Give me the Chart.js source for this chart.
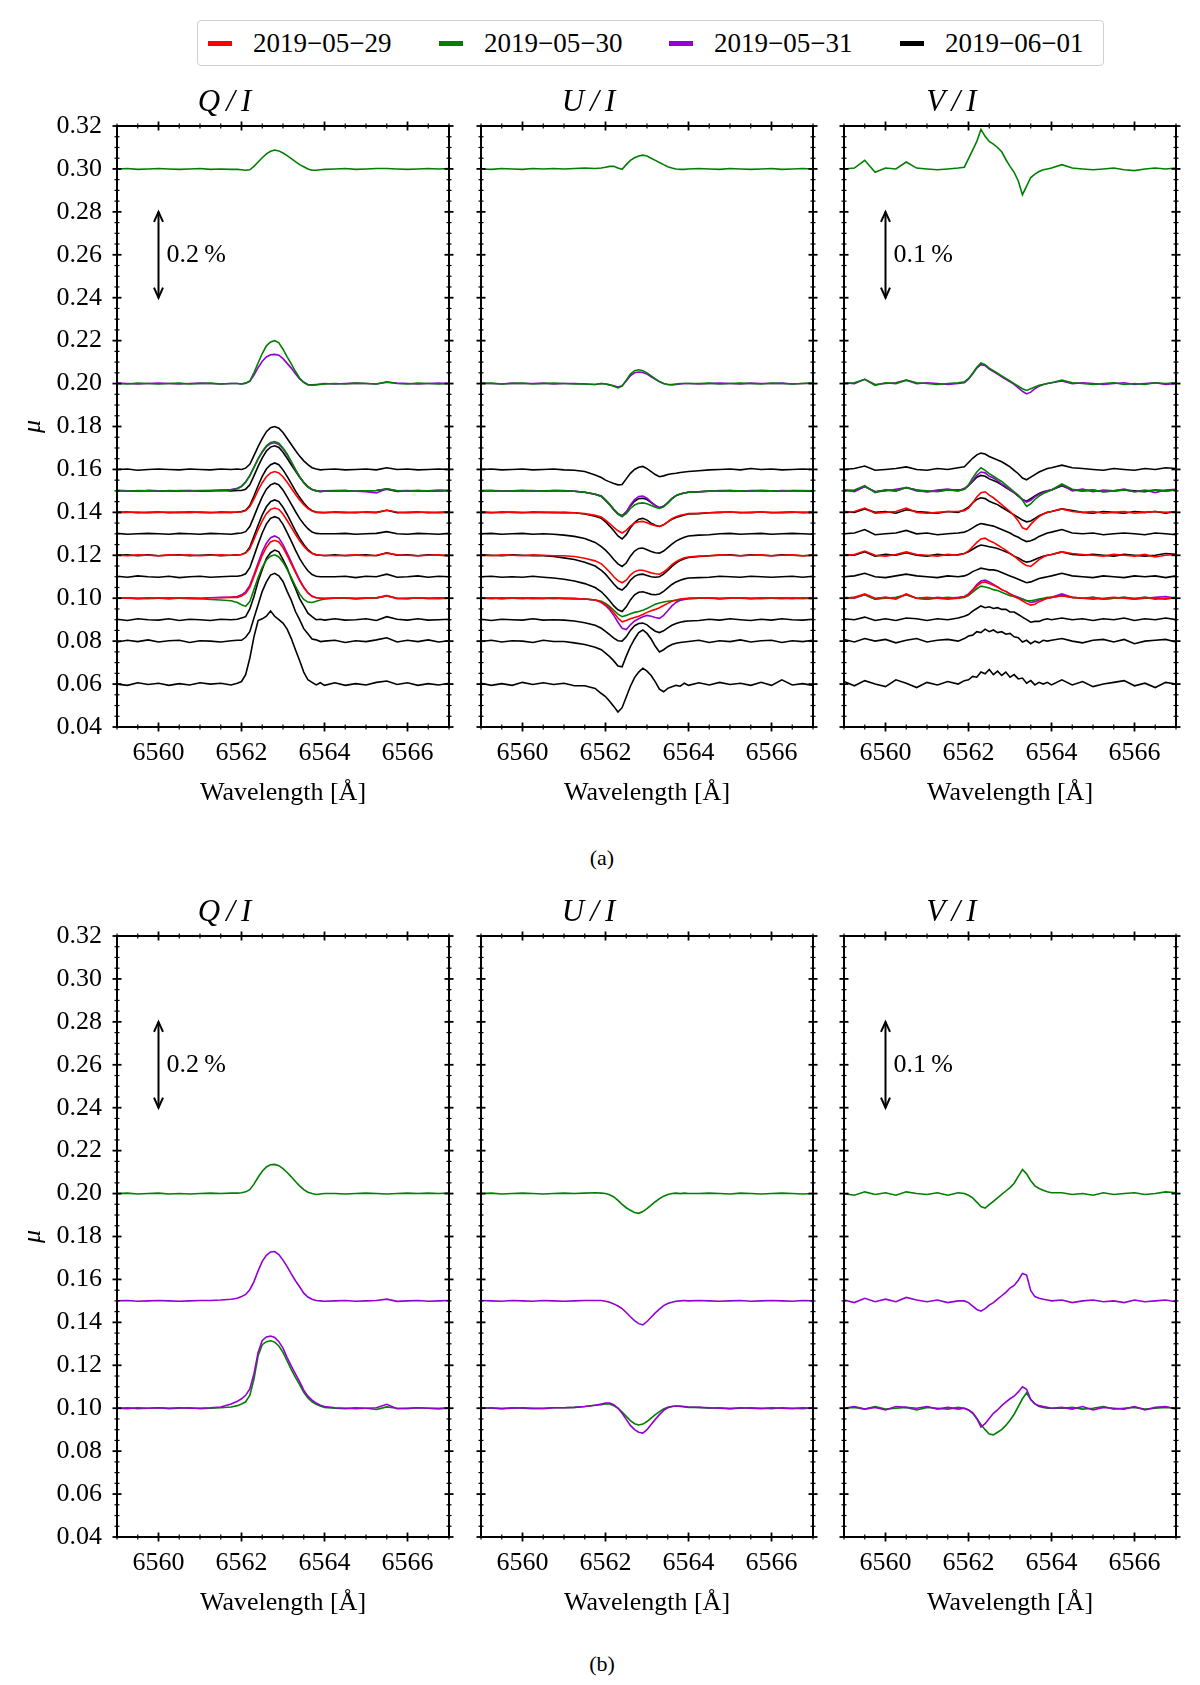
<!DOCTYPE html>
<html>
<head>
<meta charset="utf-8">
<title>Stokes profiles</title>
<script src="https://cdn.jsdelivr.net/npm/chart.js@4.4.1/dist/chart.umd.min.js"></script>
<style>
  body { margin: 0; background: #fff; }
  #page { position: relative; width: 1200px; height: 1685px; overflow: hidden; font-family: "Liberation Serif", serif; color: #000; }
  canvas { position: absolute; }
  #legend { position: absolute; left: 197px; top: 20px; width: 905px; height: 44px; border: 1px solid #d0d0d0; border-radius: 4px; background: #fff; font-size: 27px; }
  #legend .item { position: absolute; top: 0; height: 44px; line-height: 44px; white-space: nowrap; }
  #legend .item i { display: inline-block; width: 24px; height: 5px; vertical-align: middle; margin-right: 21px; position: relative; top: -2px; }
  .sub { position: absolute; left: 552px; width: 100px; text-align: center; font-size: 22px; line-height: 26px; }
</style>
</head>
<body>
<div id="page">
  <div id="legend"></div>
  <canvas id="qa" width="464" height="756"></canvas>
  <canvas id="ua" width="464" height="756"></canvas>
  <canvas id="va" width="464" height="756"></canvas>
  <canvas id="qb" width="464" height="756"></canvas>
  <canvas id="ub" width="464" height="756"></canvas>
  <canvas id="vb" width="464" height="756"></canvas>
  <div class="sub" style="top:845px">(a)</div>
  <div class="sub" style="top:1651px">(b)</div>
</div>
<script>
// --- data ---
// wavelength grid [Å]: coarse in the continuum, 0.1 Å across H-alpha
const wavelength = [6559.0, 6559.25, 6559.5, 6559.75, 6560.0, 6560.25, 6560.5, 6560.75, 6561.0, 6561.25, 6561.5, 6561.75,
  6561.9, 6562.0, 6562.1, 6562.2, 6562.3, 6562.4, 6562.5, 6562.6, 6562.7, 6562.8, 6562.9, 6563.0, 6563.1, 6563.2, 6563.3, 6563.4, 6563.5, 6563.6, 6563.7, 6563.8, 6563.9, 6564.0,
  6564.25, 6564.5, 6564.75, 6565.0, 6565.25, 6565.5, 6565.75, 6566.0, 6566.25, 6566.5, 6566.75, 6567.0];
const xTicks = [6560, 6562, 6564, 6566];
const yTicks = [0.04, 0.06, 0.08, 0.10, 0.12, 0.14, 0.16, 0.18, 0.20, 0.22, 0.24, 0.26, 0.28, 0.30, 0.32];
const dates = ["2019\u221205\u221229", "2019\u221205\u221230", "2019\u221205\u221231", "2019\u221206\u221201"];
const dateColors = ["#ff0000", "#008000", "#9400d3", "#000000"];
// profiles are offset to their mu; the scale bars give 0.2 % (Q, U) and 0.1 % (V) per 0.04 in mu
const axisPerPercent = { Q: 0.2, U: 0.2, V: 0.4 };
const scaleBarX = 6560;
const scaleBarSpan = [0.24, 0.28];

// polarisation profiles, units of 0.001 %   (qa = Q/I panel (a), g/p/r/k = green/purple/red/black, number = mu)
const qa_g30 = [0,1,-1,0,1,0,-1,0,1,-1,0,-1, -1,-2,-3,-2,6,16,26,35,41,44,42,37,31,24,17,10,5,0,-3,-3,-2,-1, 0,1,-1,0,1,1,0,-1,0,1,0,1];
const qa_g20 = [0,-1,1,0,-1,0,1,-1,0,1,-1,0, 0,-1,1,6,25,48,70,88,97,100,95,80,62,46,28,13,3,-3,-4,-3,-2,-1, 0,-1,1,0,-1,4,0,-1,1,0,-1,0];
const qa_p20 = [1,0,-1,0,1,0,-1,0,1,0,-1,0, 0,-1,1,5,20,37,52,62,67,68,66,58,47,36,23,11,3,-2,-3,-2,-1,0, -1,0,1,0,-1,3,1,0,-1,0,1,0];
const qa_k16 = [0,1,-2,0,1,0,-1,1,0,-1,1,0, 1,0,3,12,32,53,72,88,97,100,96,86,72,58,44,31,20,11,4,1,-1,0, 1,-1,0,1,-1,4,0,1,-1,0,1,0];
const qa_k15 = [1,0,-1,1,0,-1,0,1,-1,0,1,0, 1,1,4,14,35,57,77,93,102,105,101,90,76,61,46,32,20,10,3,0,-1,0, 0,1,-1,0,1,4,-1,0,1,-1,0,1];
const qa_g15 = [0,-1,1,0,-1,1,0,-1,0,1,1,2, 5,10,20,35,55,75,92,105,113,115,111,100,86,68,50,33,19,9,3,0,-2,-1, 0,1,-1,0,1,5,0,-1,1,0,-1,1];
const qa_p15 = [1,0,-1,1,0,-1,1,0,1,1,2,3, 6,11,21,36,55,74,90,103,110,112,108,98,84,67,49,33,19,9,3,1,-1,0, 1,0,-1,-2,-5,5,0,1,-1,0,2,1];
const qa_k14 = [0,1,-1,0,1,-1,0,1,0,-1,1,0, 1,2,5,16,38,62,84,101,111,115,111,99,84,67,50,35,22,11,4,1,0,-1, 1,0,-1,1,0,5,-1,0,1,-1,0,1];
const qa_r14 = [-1,0,1,-1,0,1,0,-1,1,0,-1,0, 1,1,4,13,31,51,69,83,92,95,92,83,70,56,42,29,18,9,3,0,-1,0, 0,-1,1,0,-1,5,1,-1,0,1,-1,0];
const qa_k13 = [1,-1,0,1,0,-1,1,0,-1,1,0,-1, 1,2,5,17,40,64,86,104,114,118,114,102,86,69,52,36,23,12,4,1,0,0, 0,1,-1,0,1,5,0,-1,1,0,-1,1];
const qa_k12 = [0,1,-1,1,-1,0,1,-1,0,1,-1,0, 1,2,6,19,44,70,94,113,125,129,125,112,95,76,57,40,25,13,5,1,0,-1, 1,-1,0,1,-1,6,0,1,-1,1,0,-1];
const qa_r12 = [0,-1,1,0,-1,1,0,1,-1,0,1,0, 1,2,5,15,37,60,80,97,107,110,107,96,81,65,49,34,21,11,4,1,0,0, -1,0,1,-1,0,5,1,0,-1,0,1,-1];
const qa_k11 = [1,-1,2,0,-1,1,-2,0,1,-1,0,1, 1,3,7,21,48,76,102,123,136,140,136,122,103,83,62,43,27,14,5,1,0,0, 0,1,-2,1,0,6,-1,0,2,-1,1,0];
const qa_p10 = [0,1,-1,0,1,-1,0,1,0,1,2,3, 4,8,15,30,55,82,108,128,141,145,140,125,105,84,63,43,26,13,5,1,0,-1, 1,0,-1,1,0,6,0,-1,1,0,1,0];
const qa_r10 = [1,0,-1,1,0,-1,1,0,-1,1,1,2, 2,5,11,25,50,76,100,119,131,135,131,118,100,80,60,41,25,12,4,1,0,0, 0,1,-1,0,1,6,-1,0,1,-1,0,1];
const qa_g10 = [0,1,0,-1,0,1,0,-1,-1,-3,-4,-6, -10,-15,-19,-8,20,48,72,89,98,101,96,84,67,48,28,10,-3,-9,-10,-7,-4,-2, 0,1,-1,0,1,5,0,-1,1,0,-1,0];
const qa_k09 = [1,-2,2,0,-1,2,-2,1,0,-2,1,0, 1,4,7,25,54,89,117,143,156,162,158,140,120,95,73,49,32,15,7,0,1,-1, 2,-1,0,2,-2,7,1,-1,2,-1,0,1];
const qa_k08 = [-2,2,-1,3,-2,1,2,-3,1,0,-2,1, 2,2,9,22,54,85,116,138,154,158,152,139,116,95,69,50,29,17,5,3,-1,0, 2,-3,1,-1,3,8,-2,2,-1,3,-2,1];
const qa_k06 = [0,-3,3,-1,2,-3,1,-2,3,0,2,-2, 2,6,22,60,110,148,152,158,170,158,150,142,128,106,80,55,28,10,4,-2,3,-3, 3,-3,1,-2,4,7,-1,3,-3,1,-2,2];

const ua_g30 = [0,-1,1,0,-1,1,0,1,0,1,2,1, 2,4,6,6,2,-1,10,20,26,30,32,30,25,20,15,10,5,2,0,-1,-1,0, 1,0,-1,1,0,-1,0,1,-1,0,1,0];
const ua_g20 = [0,1,-1,0,1,-1,0,1,0,-1,-1,-2, 0,-1,-3,-6,-10,-6,8,22,30,32,30,25,18,11,5,0,-2,-2,-1,0,0,0, 0,1,-1,0,1,0,-1,1,0,-1,0,1];
const ua_p20 = [1,0,-1,1,0,0,1,-1,0,0,-1,-2, 0,-1,-3,-5,-8,-5,6,18,25,27,26,22,16,10,4,0,-2,-3,-2,-1,0,0, -1,0,1,0,-1,1,0,0,1,-1,0,1];
const ua_k16 = [0,1,-1,0,1,-1,0,1,-1,-2,-5,-13, -19,-25,-29,-33,-36,-35,-22,-9,0,5,7,2,-5,-12,-17,-15,-12,-10,-9,-7,-6,-5, -3,-1,0,1,-1,2,0,1,-1,0,1,0];
const ua_k15 = [0,1,-1,0,1,0,-1,1,0,-1,-3,-8, -12,-21,-31,-43,-53,-58,-49,-35,-24,-18,-17,-20,-27,-34,-39,-36,-28,-18,-11,-7,-5,-3, -2,-1,0,1,-1,0,1,0,-1,1,0,-1];
const ua_g15 = [1,0,-1,0,1,-1,0,1,0,-1,-3,-8, -13,-22,-32,-44,-54,-59,-53,-41,-33,-29,-28,-30,-34,-38,-41,-37,-28,-18,-11,-7,-5,-3, -2,0,-1,1,0,-1,1,0,-1,0,1,0];
const ua_p15 = [0,1,0,-1,0,1,-1,0,1,-1,-3,-8, -13,-22,-32,-44,-54,-60,-50,-33,-20,-13,-12,-17,-26,-34,-40,-36,-28,-18,-11,-7,-5,-3, -2,-1,1,0,-1,1,0,-1,1,0,-1,1];
const ua_k14 = [0,-1,1,0,-1,1,0,-1,0,-1,-4,-9, -14,-22,-32,-43,-55,-62,-52,-36,-24,-16,-14,-18,-25,-30,-33,-29,-22,-16,-12,-9,-6,-4, -3,-1,0,1,-1,0,1,-1,0,1,-1,0];
const ua_r14 = [1,0,-1,1,0,-1,0,1,-1,-1,-3,-7, -11,-18,-26,-35,-43,-48,-42,-32,-25,-22,-21,-24,-28,-31,-33,-29,-22,-15,-10,-7,-5,-3, -2,-1,0,1,0,-1,1,0,-1,0,1,0];
const ua_k13 = [0,1,-1,0,1,-1,0,-1,-3,-6,-11,-20, -30,-38,-48,-60,-70,-76,-68,-52,-40,-34,-33,-37,-41,-44,-45,-40,-32,-24,-17,-12,-8,-5, -3,-2,0,1,-1,0,1,-1,0,1,0,-1];
const ua_r12 = [0,-1,1,0,-1,1,0,-1,-1,-3,-7,-13, -20,-29,-39,-50,-59,-64,-58,-46,-38,-35,-35,-38,-41,-43,-44,-39,-31,-22,-15,-10,-6,-4, -2,-1,1,0,-1,0,1,-1,0,1,-1,0];
const ua_k12 = [1,0,-1,1,0,-1,-1,-3,-6,-10,-16,-25, -35,-44,-55,-67,-77,-81,-72,-58,-49,-45,-44,-47,-50,-51,-50,-44,-35,-26,-18,-12,-8,-5, -3,-1,0,1,-1,1,0,-1,1,0,-1,0];
const ua_k11 = [0,1,-1,0,-1,1,-1,-3,-6,-10,-16,-25, -35,-45,-56,-68,-77,-81,-70,-54,-42,-36,-35,-38,-41,-42,-40,-34,-26,-18,-12,-8,-5,-3, -2,-1,1,0,-1,1,0,-1,0,1,-1,1];
const ua_g10 = [0,1,-1,0,1,0,-1,1,0,-1,-2,-4, -7,-12,-19,-28,-37,-43,-40,-36,-33,-31,-28,-24,-19,-14,-11,-9,-7,-6,-5,-3,-2,-1, 0,1,-1,0,1,0,-1,0,1,0,-1,1];
const ua_r10 = [1,0,-1,1,0,-1,0,1,-1,-1,-2,-4, -9,-15,-23,-34,-46,-55,-52,-48,-45,-42,-38,-33,-29,-26,-22,-17,-12,-7,-4,-2,-1,0, 1,0,-1,0,1,-1,0,1,0,-1,1,0];
const ua_p10 = [0,-1,1,0,-1,1,0,-1,0,-1,-2,-4, -10,-17,-27,-40,-56,-70,-73,-62,-53,-48,-43,-40,-42,-45,-47,-40,-29,-18,-10,-5,-3,-1, 0,1,-1,1,0,-1,1,0,-1,1,0,-1];
const ua_k09 = [1,-2,1,0,-1,2,-1,0,-1,-3,-7,-13, -20,-27,-35,-43,-49,-50,-40,-25,-14,-9,-8,-12,-20,-27,-30,-26,-19,-13,-9,-6,-4,-3, -2,1,-1,2,0,-2,1,-1,2,0,-1,1];
const ua_k08 = [-1,2,-2,1,0,-3,2,-1,-1,-4,-8,-14, -20,-28,-36,-46,-58,-60,-35,-13,5,20,26,18,5,-12,-25,-20,-13,-8,-5,-3,-2,-1, 2,-3,1,-1,3,-2,1,2,-3,1,-1,2];
const ua_k06 = [2,-3,1,-3,4,-1,3,-1,2,-4,-4,-10, -22,-29,-40,-52,-65,-55,-30,-5,15,28,37,30,20,5,-12,-18,-10,-6,-3,-5,2,-3, 3,-2,4,-1,2,-3,4,-3,10,-2,1,-3];

const va_g30 = [0,1,10,-4,1,0,8,1,0,-1,0,1, 2,12,22,32,46,38,32,29,25,20,11,3,-4,-14,-30,-20,-10,-6,-3,-1,0,1, 5,1,0,-1,0,1,-1,-2,0,1,0,1];
const va_g20 = [0,1,5,-2,1,0,4,1,0,-1,0,1, 2,6,12,19,24,22,18,15,12,9,6,3,0,-3,-6,-8,-6,-4,-2,-1,0,1, 4,1,0,-1,0,1,-1,0,-1,1,0,1];
const va_p20 = [1,0,5,-1,0,1,4,0,1,0,-1,0, 1,5,11,18,22,21,17,14,11,8,5,2,-1,-5,-9,-12,-10,-6,-3,-1,0,1, 3,0,1,0,-1,0,1,-1,0,1,-1,0];
const va_k16 = [0,1,4,-1,0,1,3,0,-1,1,0,2, 3,8,13,17,19,18,15,13,11,9,6,3,-1,-5,-10,-12,-9,-6,-3,-1,1,2, 5,2,1,0,-1,1,0,-1,1,0,2,1];
const va_k15 = [1,0,5,-1,1,0,4,1,-1,0,1,1, 2,6,11,16,18,17,14,12,10,7,4,1,-2,-6,-10,-12,-9,-6,-3,-1,0,1, 6,1,0,1,-1,0,1,0,-1,1,0,1];
const va_g15 = [0,1,6,-2,1,0,4,1,0,-1,1,0, 2,7,15,22,27,24,20,17,14,11,7,3,-1,-5,-11,-18,-15,-10,-6,-3,-1,1, 8,2,0,1,-1,0,1,-1,0,1,0,1];
const va_p15 = [1,-1,5,-1,0,2,4,0,-1,1,2,0, 3,6,12,18,22,21,17,15,12,8,5,1,-2,-6,-10,-13,-11,-7,-4,-2,0,1, 7,0,2,-1,1,0,2,-1,1,-2,1,2];
const va_r14 = [0,1,5,-1,0,1,5,0,-1,0,1,1, 2,5,11,18,23,24,20,17,13,9,5,1,-4,-10,-18,-20,-14,-9,-5,-2,0,1, 4,1,0,1,-1,0,1,-1,0,1,0,1];
const va_k14 = [1,0,4,0,1,-1,3,1,0,-1,1,0, 3,6,11,15,17,16,13,11,9,6,3,0,-3,-6,-9,-11,-10,-7,-4,-2,0,1, 4,2,0,-1,1,0,-1,1,0,1,-1,1];
const va_k13 = [0,1,5,-1,0,1,4,0,1,-1,0,1, 2,4,7,10,12,11,10,9,7,5,3,1,-2,-4,-7,-9,-8,-6,-3,-1,1,2, 5,1,0,1,-1,0,1,0,-1,1,0,-1];
const va_r12 = [0,1,5,0,-1,1,4,1,0,-1,1,0, 2,5,10,15,19,20,17,15,12,9,6,2,-1,-5,-9,-12,-13,-9,-5,-2,0,1, 4,2,1,0,-1,1,0,-1,1,-2,0,1];
const va_k12 = [1,0,4,-1,1,0,3,0,-1,1,0,1, 2,4,7,10,12,11,10,9,8,6,4,2,-1,-3,-6,-8,-7,-5,-3,-1,0,1, 4,1,0,1,0,-1,1,0,-1,0,2,1];
const va_k11 = [0,1,4,0,-1,1,3,1,0,-1,1,0, 1,3,6,8,10,9,8,8,7,5,3,1,-1,-3,-5,-7,-6,-4,-2,-1,0,1, 4,1,0,-1,1,0,-1,1,0,1,-1,1];
const va_p10 = [1,0,4,-1,1,0,4,0,-1,1,0,1, 2,5,10,16,20,21,19,16,13,10,8,5,3,1,-1,-3,-5,-4,-2,-1,0,1, 5,1,0,1,-1,0,1,-1,0,1,2,0];
const va_r10 = [0,1,5,0,1,-1,5,0,1,0,-1,0, 2,4,9,14,18,19,17,15,13,10,8,5,2,0,-3,-6,-8,-7,-4,-2,0,1, 3,1,0,-1,0,1,0,-1,1,0,-1,1];
const va_g10 = [0,1,4,-1,0,1,4,0,-1,0,1,0, 1,3,7,11,14,13,12,10,9,7,5,3,2,0,-1,-3,-3,-2,-1,0,1,1, 3,1,0,1,-1,0,1,0,1,-1,0,1];
const va_k09 = [1,0,3,-1,1,-1,2,1,-1,1,0,2, 4,6,10,13,16,14,15,13,14,12,12,9,9,6,3,0,-3,-2,-2,0,1,0, 2,0,1,-1,1,0,2,-1,1,0,2,0];
const va_k08 = [2,-1,3,0,2,-2,1,3,-1,1,2,0, 3,6,7,11,10,14,11,13,10,11,8,9,5,4,-1,1,-3,0,-2,1,0,1, 3,0,-2,1,2,-1,2,-3,0,1,2,-1];
const va_k06 = [3,-2,4,0,-3,5,1,-4,2,-1,3,0, 4,5,9,8,14,12,17,11,15,10,14,8,11,6,7,1,4,-1,2,0,2,-1, 5,-1,3,-3,0,2,4,-2,1,-4,2,0];

const qb_g20 = [0,1,-1,0,1,-1,0,-1,0,1,0,1, 1,2,4,9,22,38,52,62,67,68,65,58,49,39,28,18,9,3,0,-2,-1,0, 0,-1,0,1,0,-1,0,1,0,1,0,1];
const qb_p15 = [0,1,-1,0,1,0,-1,0,1,1,2,4, 6,10,15,26,45,70,92,106,114,115,108,95,80,63,47,33,18,9,4,1,0,-1, 0,1,-1,0,1,4,-1,0,1,-1,0,1];
const qb_p10 = [0,-1,1,0,1,0,1,0,0,1,3,10, 16,22,30,45,80,130,158,166,168,165,155,140,118,98,80,62,42,28,19,12,7,4, 1,0,-1,0,1,9,-1,0,1,0,-1,1];
const qb_g10 = [0,1,-1,0,1,-1,0,1,-1,0,1,3, 6,10,15,30,68,122,148,155,157,154,145,130,110,90,72,55,37,24,15,9,5,2, 0,-1,1,0,-3,3,0,-1,1,0,-1,0];
const ub_g20 = [0,1,-1,0,1,0,-1,0,1,0,1,2, 1,0,-3,-8,-16,-25,-33,-39,-44,-46,-42,-35,-27,-19,-12,-6,-2,0,1,0,1,0, 0,1,0,-1,1,0,-1,0,1,0,-1,0];
const ub_p15 = [1,0,-1,1,0,-1,1,0,-1,0,1,1, 1,-1,-3,-7,-12,-18,-27,-37,-46,-53,-56,-48,-38,-28,-19,-11,-6,-3,-1,0,1,0, 1,0,-1,0,1,-1,0,1,0,-1,1,0];
const ub_p10 = [0,1,-1,0,1,0,-1,1,1,2,4,7, 10,12,12,8,0,-12,-26,-40,-50,-56,-58,-50,-38,-26,-15,-5,1,4,5,5,4,3, 2,1,0,-1,1,0,-1,1,0,-1,1,0];
const ub_g10 = [1,0,-1,1,0,-1,0,1,1,2,4,7, 8,10,10,6,0,-9,-19,-29,-36,-39,-37,-31,-23,-15,-8,-2,2,4,5,4,3,2, 2,0,1,-1,0,1,0,-1,1,0,-1,1];
const vb_g20 = [0,-2,2,-1,1,-2,2,0,-1,1,-2,1, 0,-2,-5,-10,-15,-17,-13,-9,-5,-1,3,7,12,20,28,23,15,9,6,4,2,1, 1,-1,0,-2,1,-1,0,1,-1,0,2,1];
const vb_p15 = [1,-2,3,-1,2,-1,4,1,-1,1,-2,0, 0,-2,-6,-10,-12,-9,-5,-2,2,6,10,15,18,24,32,30,12,5,3,2,1,0, 1,-2,0,1,-1,0,-2,1,-1,0,1,-1];
const vb_p10 = [0,2,-1,1,-2,2,1,0,2,-1,1,-1, 0,-2,-5,-12,-22,-18,-12,-6,-2,3,7,11,14,19,25,22,10,5,3,2,1,0, 1,-1,2,-2,1,0,-1,2,-2,1,2,-1];
const vb_g10 = [0,1,-1,2,-1,0,1,-2,1,0,-1,1, 0,-2,-6,-12,-19,-25,-30,-31,-28,-25,-20,-14,-7,2,11,18,10,5,2,1,0,0, 0,1,-1,0,2,-1,0,1,-1,0,1,0];

// [date index, mu, profile]
const seriesQa = [[1,0.30,qa_g30],[1,0.20,qa_g20],[2,0.20,qa_p20],[3,0.16,qa_k16],[3,0.15,qa_k15],[1,0.15,qa_g15],[2,0.15,qa_p15],
  [3,0.14,qa_k14],[0,0.14,qa_r14],[3,0.13,qa_k13],[3,0.12,qa_k12],[0,0.12,qa_r12],[3,0.11,qa_k11],[2,0.10,qa_p10],[0,0.10,qa_r10],
  [1,0.10,qa_g10],[3,0.09,qa_k09],[3,0.08,qa_k08],[3,0.06,qa_k06]];
const seriesUa = [[1,0.30,ua_g30],[1,0.20,ua_g20],[2,0.20,ua_p20],[3,0.16,ua_k16],[3,0.15,ua_k15],[1,0.15,ua_g15],[2,0.15,ua_p15],
  [3,0.14,ua_k14],[0,0.14,ua_r14],[3,0.13,ua_k13],[3,0.12,ua_k12],[0,0.12,ua_r12],[3,0.11,ua_k11],[2,0.10,ua_p10],[0,0.10,ua_r10],
  [1,0.10,ua_g10],[3,0.09,ua_k09],[3,0.08,ua_k08],[3,0.06,ua_k06]];
const seriesVa = [[1,0.30,va_g30],[1,0.20,va_g20],[2,0.20,va_p20],[3,0.16,va_k16],[3,0.15,va_k15],[1,0.15,va_g15],[2,0.15,va_p15],
  [3,0.14,va_k14],[0,0.14,va_r14],[3,0.13,va_k13],[3,0.12,va_k12],[0,0.12,va_r12],[3,0.11,va_k11],[2,0.10,va_p10],[0,0.10,va_r10],
  [1,0.10,va_g10],[3,0.09,va_k09],[3,0.08,va_k08],[3,0.06,va_k06]];
const seriesQb = [[1,0.20,qb_g20],[2,0.15,qb_p15],[2,0.10,qb_p10],[1,0.10,qb_g10]];
const seriesUb = [[1,0.20,ub_g20],[2,0.15,ub_p15],[2,0.10,ub_p10],[1,0.10,ub_g10]];
const seriesVb = [[1,0.20,vb_g20],[2,0.15,vb_p15],[2,0.10,vb_p10],[1,0.10,vb_g10]];

document.addEventListener("DOMContentLoaded", () => {
  const FONT = '"Liberation Serif", serif';
  Chart.defaults.font.family = FONT;
  Chart.defaults.color = "#000";

  // --- legend (shared by all panels) ---
  const legend = document.getElementById("legend");
  const itemLeft = [10, 241, 471, 702];
  dates.forEach((d, i) => {
    const item = document.createElement("span");
    item.className = "item";
    item.style.left = itemLeft[i] + "px";
    item.innerHTML = '<i style="background:' + dateColors[i] + '"></i>' + d;
    legend.appendChild(item);
  });

  // frame, in-out ticks on all four sides and the scale bar
  const frameTicks = {
    id: "frameTicks",
    afterDatasetsDraw(chart, args, opts) {
      const { ctx, chartArea: a, scales: { x, y } } = chart;
      const seg = (x1, y1, x2, y2) => { ctx.beginPath(); ctx.moveTo(x1, y1); ctx.lineTo(x2, y2); ctx.stroke(); };
      ctx.save();
      ctx.strokeStyle = "#000";
      const nx = Math.round((x.max - x.min) / 0.5);
      for (let k = 0; k <= nx; k++) {
        const v = x.min + k * 0.5;
        const major = xTicks.some(t => Math.abs(t - v) < 1e-6);
        const len = major ? 4.5 : 2.5;
        ctx.lineWidth = major ? 1.8 : 1.2;
        const px = x.getPixelForValue(v);
        seg(px, a.bottom - len, px, a.bottom + len);
        seg(px, a.top - len, px, a.top + len);
      }
      const ny = Math.round((y.max - y.min) / 0.005);
      for (let k = 0; k <= ny; k++) {
        const v = y.min + k * 0.005;
        const major = yTicks.some(t => Math.abs(t - v) < 1e-6);
        const len = major ? 4.5 : 2.5;
        ctx.lineWidth = major ? 1.8 : 1.2;
        const py = y.getPixelForValue(v);
        seg(a.left - len, py, a.left + len, py);
        seg(a.right - len, py, a.right + len, py);
      }
      ctx.lineWidth = 2;
      ctx.strokeRect(a.left, a.top, a.right - a.left, a.bottom - a.top);

      if (opts.scaleBar) {
        const bx = x.getPixelForValue(scaleBarX);
        const yb = y.getPixelForValue(scaleBarSpan[0]);
        const yt = y.getPixelForValue(scaleBarSpan[1]);
        ctx.lineWidth = 2;
        seg(bx, yt, bx, yb);
        ctx.beginPath(); ctx.moveTo(bx - 4.5, yt + 10); ctx.lineTo(bx, yt); ctx.lineTo(bx + 4.5, yt + 10); ctx.stroke();
        ctx.beginPath(); ctx.moveTo(bx - 4.5, yb - 10); ctx.lineTo(bx, yb); ctx.lineTo(bx + 4.5, yb - 10); ctx.stroke();
        ctx.fillStyle = "#000";
        ctx.font = "26px " + FONT;
        ctx.textBaseline = "middle";
        ctx.textAlign = "left";
        ctx.fillText(opts.scaleBar, bx + 8, y.getPixelForValue((scaleBarSpan[0] + scaleBarSpan[1]) / 2));
      }
      ctx.restore();
    }
  };

  const rankA = [0, 1, 2, 3];   // red on top, black underneath
  const rankB = [0, 2, 1, 3];   // purple over green in (b)

  function buildDatasets(series, stokes, rank) {
    const k = 0.001 * axisPerPercent[stokes];
    return series.map(([d, mu, prof]) => ({
      label: dates[d],
      data: wavelength.map((w, i) => ({ x: w, y: mu + prof[i] * k })),
      borderColor: dateColors[d],
      borderWidth: 1.6,
      pointRadius: 0,
      tension: 0,
      order: rank[d],
    }));
  }

  const panels = [
    { id: "qa", col: 0, row: 0, title: "Q\u2009/\u2009I", stokes: "Q", series: seriesQa, bar: "0.2\u2009%" },
    { id: "ua", col: 1, row: 0, title: "U\u2009/\u2009I", stokes: "U", series: seriesUa, bar: null },
    { id: "va", col: 2, row: 0, title: "V\u2009/\u2009I", stokes: "V", series: seriesVa, bar: "0.1\u2009%" },
    { id: "qb", col: 0, row: 1, title: "Q\u2009/\u2009I", stokes: "Q", series: seriesQb, bar: "0.2\u2009%" },
    { id: "ub", col: 1, row: 1, title: "U\u2009/\u2009I", stokes: "U", series: seriesUb, bar: null },
    { id: "vb", col: 2, row: 1, title: "V\u2009/\u2009I", stokes: "V", series: seriesVb, bar: "0.1\u2009%" },
  ];
  const canvasLeft = [0, 364, 727];
  const canvasTop = [66, 876];

  panels.forEach(p => {
    const el = document.getElementById(p.id);
    el.style.left = canvasLeft[p.col] + "px";
    el.style.top = canvasTop[p.row] + "px";
    const first = p.col === 0;
    new Chart(el, {
      type: "line",
      data: { datasets: buildDatasets(p.series, p.stokes, p.row === 0 ? rankA : rankB) },
      plugins: [frameTicks],
      options: {
        responsive: false,
        animation: false,
        events: [],
        layout: { padding: { left: 0, right: 15, top: 0, bottom: 0 } },
        plugins: {
          legend: { display: false },
          tooltip: { enabled: false },
          title: { display: true, text: p.title, color: "#000", font: { size: 31, style: "italic", weight: "normal", lineHeight: 1 }, padding: { top: 21, bottom: 8 } },
          frameTicks: { scaleBar: p.bar },
        },
        scales: {
          x: {
            type: "linear", min: 6559, max: 6567,
            grid: { display: false, drawTicks: false },
            border: { display: false },
            afterBuildTicks: s => { s.ticks = xTicks.map(v => ({ value: v })); },
            afterFit: s => { s.height = 95; },
            ticks: { autoSkip: false, maxRotation: 0, padding: 11, color: "#000", font: { size: 26 }, callback: v => String(v) },
            title: { display: true, text: "Wavelength [Å]", color: "#000", font: { size: 26, lineHeight: 1 }, padding: { top: 0, bottom: 16 } },
          },
          y: {
            type: "linear", min: 0.04, max: 0.32,
            grid: { display: false, drawTicks: false },
            border: { display: false },
            afterBuildTicks: s => { s.ticks = yTicks.map(v => ({ value: v })); },
            afterFit: s => { s.width = 117; },
            ticks: { display: first, autoSkip: false, padding: 15, color: "#000", font: { size: 26 }, callback: v => v.toFixed(2) },
            title: { display: first, text: "μ", color: "#000", font: { size: 26, style: "italic", lineHeight: 1 }, padding: { top: 20, bottom: 0 } },
          },
        },
      },
    });
  });
});
</script>
</body>
</html>
